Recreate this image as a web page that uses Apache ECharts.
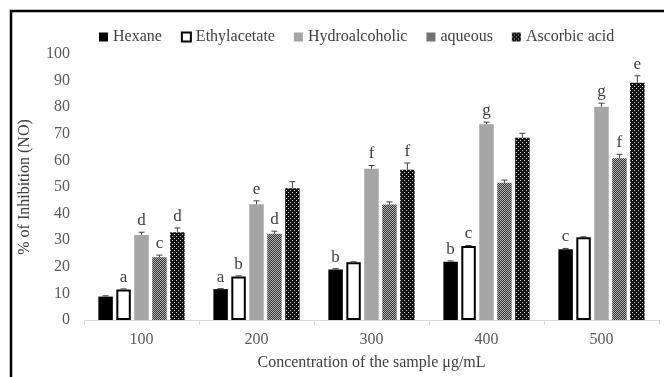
<!DOCTYPE html>
<html>
<head>
<meta charset="utf-8">
<script src="https://cdn.jsdelivr.net/npm/echarts@6/dist/echarts.min.js"></script>
<style>
  html, body { margin: 0; padding: 0; background: #fff; }
  #chart { width: 664px; height: 377px; }
</style>
</head>
<body>
<div id="chart"></div>
<script>
// concentrations (µg/mL)
const categories = ['100', '200', '300', '400', '500'];
const seriesNames = ['Hexane', 'Ethylacetate', 'Hydroalcoholic', 'aqueous', 'Ascorbic acid'];

// % inhibition
const hexane = [8.8, 11.6, 19.0, 21.9, 26.6];
const ethylacetate = [11.5, 16.4, 21.7, 27.8, 31.1];
const hydroalcoholic = [32.0, 43.5, 56.9, 73.6, 80.2];
const aqueous = [23.6, 32.4, 43.4, 51.6, 60.8];
const ascorbic = [33.0, 49.5, 56.5, 68.5, 89.2];

// error bars (approx.)
const hexaneErr = [0.3, 0.2, 0.3, 0.3, 0.3];
const ethylErr = [0.2, 0.2, 0.2, 0.2, 0.2];
const hydroErr = [1.0, 1.3, 1.2, 0.8, 1.3];
const aqueousErr = [0.8, 1.0, 1.0, 1.0, 1.5];
const ascorbicErr = [1.6, 2.5, 2.5, 1.7, 2.6];

// significance letters ('' = none)
const hexaneLetters = ['', 'a', 'b', 'b', 'c'];
const ethylLetters = ['a', 'b', '', 'c', ''];
const hydroLetters = ['d', 'e', 'f', 'g', 'g'];
const aqueousLetters = ['c', 'd', '', '', 'f'];
const ascorbicLetters = ['d', '', 'f', '', 'e'];

const values = [hexane, ethylacetate, hydroalcoholic, aqueous, ascorbic];
const errs = [hexaneErr, ethylErr, hydroErr, aqueousErr, ascorbicErr];
const letters = [hexaneLetters, ethylLetters, hydroLetters, aqueousLetters, ascorbicLetters];

// little fill patterns like the excel ones
function makePattern(size, bg, fg, pts) {
  const c = document.createElement('canvas');
  c.width = size; c.height = size;
  const ctx = c.getContext('2d');
  ctx.fillStyle = bg;
  ctx.fillRect(0, 0, size, size);
  ctx.fillStyle = fg;
  pts.forEach(p => ctx.fillRect(p[0], p[1], 1, 1));
  return { image: c, repeat: 'repeat' };
}
const checkPattern = makePattern(2, '#2e2e2e', '#b8b8b8', [[0, 0], [1, 1]]);
const dotPattern = makePattern(4, '#111111', '#d8d8d8', [[0, 0], [2, 2]]);

const fills = [
  { color: '#000' },
  { color: '#fff', borderColor: '#000', borderWidth: 2 },
  { color: '#a5a5a5' },
  { color: checkPattern },
  { color: dotPattern }
];

const CAT_GAP = 0.25, BAR_GAP = 0.24, N = 5;
const font = "'Liberation Serif', 'Times New Roman', serif";

const barSeries = seriesNames.map((name, i) => ({
  name: name,
  type: 'bar',
  barGap: '24%',
  barCategoryGap: '25%',
  itemStyle: fills[i],
  data: values[i]
}));

const errSeries = seriesNames.map((name, si) => ({
  type: 'custom',
  silent: true,
  z: 5,
  encode: { x: 0, y: 1 },
  data: values[si].map((v, k) => [k, v, errs[si][k]]),
  renderItem: function (params, api) {
    const idx = api.value(0);
    const v = api.value(1);
    const e = api.value(2);
    const letter = letters[si][idx];
    const band = api.size([1, 0])[0];
    const used = band * (1 - CAT_GAP);
    const bw = used / (N + (N - 1) * BAR_GAP);
    const cx = api.coord([idx, 0])[0] - used / 2 + si * bw * (1 + BAR_GAP) + bw / 2;
    const yv = api.coord([idx, v])[1];
    const yt = api.coord([idx, v + e])[1];
    const style = { stroke: '#404040', lineWidth: 1 };
    const children = [
      { type: 'line', shape: { x1: cx, y1: yv, x2: cx, y2: yt }, style: style },
      { type: 'line', shape: { x1: cx - 3, y1: yt, x2: cx + 3, y2: yt }, style: style }
    ];
    if (letter) {
      children.push({
        type: 'text',
        style: {
          text: letter, x: cx, y: yt - 3,
          align: 'center', verticalAlign: 'bottom',
          font: '17px ' + font, fill: '#404040'
        }
      });
    }
    return { type: 'group', children: children };
  }
}));

const chart = echarts.init(document.getElementById('chart'));
chart.setOption({
  animation: false,
  backgroundColor: '#fff',
  textStyle: { fontFamily: font },
  graphic: [{
    type: 'rect',
    shape: { x: 11, y: 11, width: 720, height: 420 },
    style: { fill: 'none', stroke: '#000', lineWidth: 2.5 },
    silent: true
  }],
  legend: {
    top: 24,
    left: 94,
    itemWidth: 9,
    itemHeight: 9,
    itemGap: 19,
    icon: 'rect',
    data: seriesNames,
    textStyle: { fontFamily: font, fontSize: 16, color: '#404040' }
  },
  grid: { left: 84, right: 5, top: 54, bottom: 57 },
  xAxis: {
    type: 'category',
    data: categories,
    name: 'Concentration of the sample μg/mL',
    nameLocation: 'middle',
    nameGap: 35,
    nameTextStyle: { fontFamily: font, fontSize: 16, color: '#404040' },
    axisLine: { lineStyle: { color: '#d9d9d9', width: 1 } },
    axisTick: { show: true, length: 5, lineStyle: { color: '#d9d9d9' } },
    axisLabel: { fontFamily: font, fontSize: 16, color: '#595959', margin: 12 }
  },
  yAxis: {
    type: 'value',
    min: 0,
    max: 100,
    interval: 10,
    name: '% of Inhibition (NO)',
    nameLocation: 'middle',
    nameGap: 51,
    nameTextStyle: { fontFamily: font, fontSize: 16, color: '#404040' },
    axisLine: { show: false },
    axisTick: { show: false },
    splitLine: { show: false },
    axisLabel: { fontFamily: font, fontSize: 16, color: '#595959', margin: 14 }
  },
  series: barSeries.concat(errSeries)
});
</script>
</body>
</html>
